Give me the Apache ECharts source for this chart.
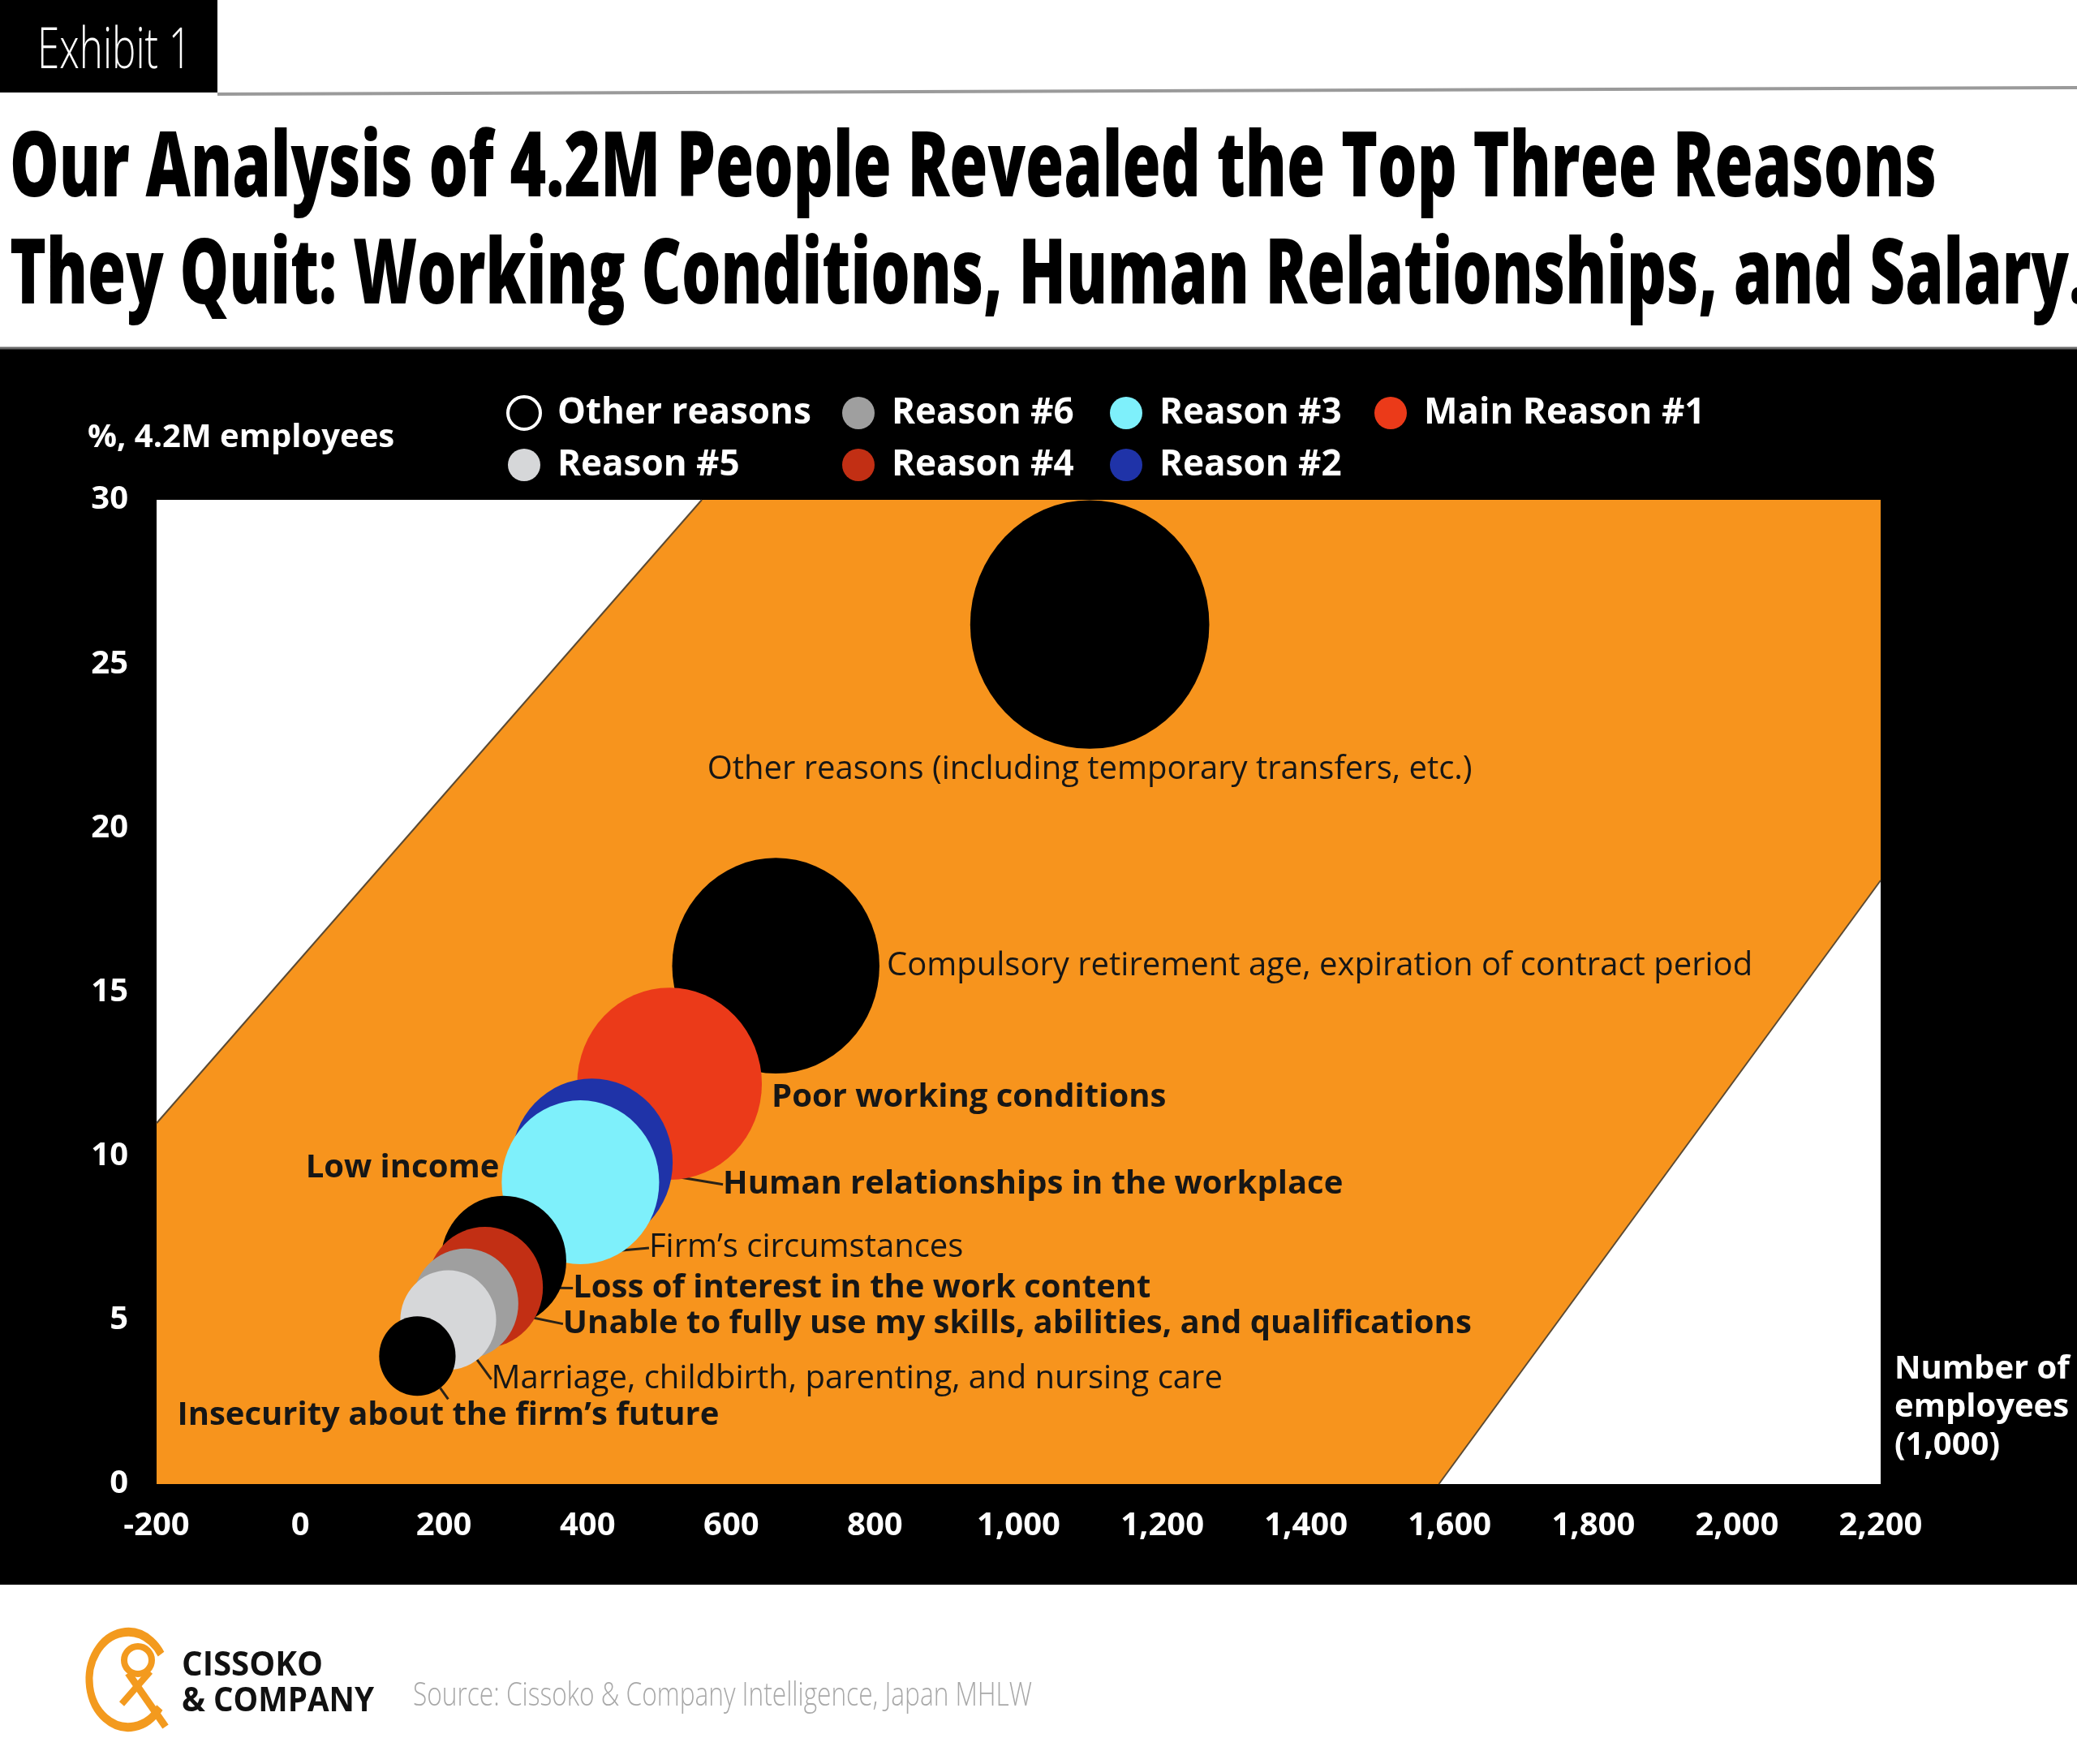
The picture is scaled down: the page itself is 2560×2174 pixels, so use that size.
<!DOCTYPE html>
<html>
<head>
<meta charset="utf-8">
<script src="https://cdn.jsdelivr.net/npm/echarts@6/dist/echarts.min.js"></script>
<style>
html,body{margin:0;padding:0;background:#fff;}
#chart{width:2560px;height:2174px;}
</style>
</head>
<body>
<div id="chart"></div>
<script>
// ---------------- DATA ----------------
const reasons = [
  'Other reasons (including temporary transfers, etc.)',
  'Compulsory retirement age, expiration of contract period',
  'Poor working conditions',
  'Human relationships in the workplace',
  'Low income',
  'Firm\u2019s circumstances',
  'Loss of interest in the work content',
  'Unable to fully use my skills, abilities, and qualifications',
  'Marriage, childbirth, parenting, and nursing care',
  'Insecurity about the firm\u2019s future'
];
// number of employees who quit (1,000)
const employees = [1099, 662, 514, 406, 390, 283, 257, 230, 206, 163];
// share of 4.2M employees (%)
const sharePct = [26.2, 15.8, 12.2, 9.8, 9.2, 6.8, 6.0, 5.5, 5.0, 3.9];
const reasonGroup = ['Other reasons', 'Other reasons', 'Main Reason #1', 'Reason #2', 'Reason #3',
  'Other reasons', 'Reason #4', 'Reason #6', 'Reason #5', 'Other reasons'];
const legendColumns = [['Other reasons', 'Reason #5'], ['Reason #6', 'Reason #4'], ['Reason #3', 'Reason #2'], ['Main Reason #1']];
const xTicks = [-200, 0, 200, 400, 600, 800, 1000, 1200, 1400, 1600, 1800, 2000, 2200];
const yTicks = [0, 5, 10, 15, 20, 25, 30];
// orange background band (data coordinates)
const bandX = [-200, -200, 559, 2200, 2200, 1585];
const bandY = [0, 11, 30, 30, 18.4, 0];
const titleLines = [
  'Our Analysis of 4.2M People Revealed the Top Three Reasons',
  'They Quit: Working Conditions, Human Relationships, and Salary.'
];
const exhibitText = 'Exhibit 1';
const yAxisName = '%, 4.2M employees';
const xAxisName = 'Number of\nemployees\n(1,000)';
const sourceText = 'Source: Cissoko & Company Intelligence, Japan MHLW';
const brandLines = ['CISSOKO', '& COMPANY'];

// ---------------- STYLES ----------------
const FONT = 'Open Sans';
const groupColor = {
  'Other reasons': '#000000',
  'Main Reason #1': '#EB3A19',
  'Reason #2': '#1F33A8',
  'Reason #3': '#7EF0FB',
  'Reason #4': '#C22F14',
  'Reason #5': '#D6D7D9',
  'Reason #6': '#9F9F9F'
};
const labelCfg = [
  { position: 'bottom', distance: 6, dx: 0, dy: 0, bold: false, line: false },
  { position: 'right', distance: 9, dx: 0, dy: 0, bold: false, line: false },
  { position: 'right', distance: 12, dx: 0, dy: 17, bold: true, line: false },
  { position: 'right', distance: 62, dx: 0, dy: 27, bold: true, line: true },
  { position: 'left', distance: 3, dx: 0, dy: -17, bold: true, line: false },
  { position: 'right', distance: 102, dx: 0, dy: -16, bold: false, line: true },
  { position: 'right', distance: 37, dx: 0, dy: 1, bold: true, line: true },
  { position: 'right', distance: 55, dx: 0, dy: 25, bold: true, line: true },
  { position: 'right', distance: -6, dx: 0, dy: 73, bold: false, line: true },
  { position: 'bottom', distance: 4, dx: 38, dy: 0, bold: true, line: true }
];
const legendLeft = [619, 1033, 1363, 1689];

function bubbleDiameter(v) {
  return 312 * (1 - Math.exp(-(v - 30) / 370));
}

// ---------------- helpers ----------------
const mctx = document.createElement('canvas').getContext('2d');
function fitText(text, x, yMid, weight, size, color, targetW, extra) {
  const font = weight + ' ' + size + 'px "' + FONT + '"';
  mctx.font = font;
  const w = mctx.measureText(text).width;
  return Object.assign({
    type: 'text', x: x, y: yMid, scaleX: targetW / w, z: 50,
    style: { text: text, fill: color, font: font, textAlign: 'left', textVerticalAlign: 'middle' }
  }, extra || {});
}

// ---------------- series ----------------
const bandSeries = {
  type: 'custom', name: 'band', silent: true, z: 1,
  data: [0],
  renderItem: function (params, api) {
    const pts = bandX.map((x, i) => api.coord([x, bandY[i]]));
    return {
      type: 'group',
      children: [
        { type: 'polygon', shape: { points: pts }, style: { fill: '#F7941D' } },
        { type: 'line', shape: { x1: pts[1][0], y1: pts[1][1], x2: pts[2][0], y2: pts[2][1] }, style: { stroke: '#5b4a33', lineWidth: 2 } },
        { type: 'line', shape: { x1: pts[4][0], y1: pts[4][1], x2: pts[5][0], y2: pts[5][1] }, style: { stroke: '#5b4a33', lineWidth: 2 } }
      ]
    };
  }
};

const bubbleSeries = employees.map(function (v, i) {
  const c = labelCfg[i];
  return {
    type: 'scatter',
    name: reasonGroup[i],
    z: 2,
    symbol: 'circle',
    symbolSize: function (val) { const d = bubbleDiameter(val[0]); return [d, d * 1.04]; },
    itemStyle: { color: groupColor[reasonGroup[i]], opacity: 1 },
    data: [{ name: reasons[i], value: [v, sharePct[i]] }],
    label: {
      show: true,
      formatter: '{b}',
      position: c.position,
      distance: c.distance,
      color: '#161616',
      fontFamily: FONT,
      fontWeight: c.bold ? 700 : 400,
      fontSize: 40
    },
    labelLayout: { dx: c.dx, dy: c.dy },
    labelLine: { show: c.line, lineStyle: { color: '#2a2218', width: 3 } },
    emphasis: { disabled: true },
    silent: true
  };
});

const legends = legendColumns.map(function (names, ci) {
  return {
    orient: 'vertical',
    left: legendLeft[ci],
    top: 482,
    itemGap: 20,
    itemWidth: 40,
    itemHeight: 42,
    selectedMode: false,
    data: names.map(function (n) {
      if (n === 'Other reasons') {
        return { name: n, icon: 'circle', itemStyle: { color: 'rgba(0,0,0,0)', borderColor: '#ffffff', borderWidth: 4 } };
      }
      return { name: n, icon: 'circle' };
    }),
    textStyle: { color: '#ffffff', fontFamily: FONT, fontWeight: 700, fontSize: 44, padding: [0, 0, 0, 16] }
  };
});

const graphics = [
  { type: 'rect', z: -10, shape: { x: 0, y: 429, width: 2560, height: 1524 }, style: { fill: '#000' } },
  { type: 'line', z: -9, shape: { x1: 0, y1: 429, x2: 2560, y2: 429 }, style: { stroke: '#6a6a6a', lineWidth: 3 } },
  { type: 'rect', z: 10, shape: { x: 0, y: 0, width: 268, height: 114 }, style: { fill: '#000' } },
  { type: 'line', z: 10, shape: { x1: 268, y1: 116, x2: 2560, y2: 108 }, style: { stroke: '#9a9a9a', lineWidth: 4 } },
  fitText(exhibitText, 46, 64, 300, 70, '#ffffff', 190),
  fitText(titleLines[0], 12, 210, 800, 112, '#000000', 2375),
  fitText(titleLines[1], 12, 342, 800, 112, '#000000', 2560),
  // y-axis caption
  { type: 'text', z: 50, x: 108, y: 540,
    style: { text: yAxisName, fill: '#ffffff', font: '700 40px "' + FONT + '"', textAlign: 'left', textVerticalAlign: 'middle' } },
  fitText(brandLines[0], 224, 2053, 700, 42, '#111111', 174),
  fitText(brandLines[1], 224, 2097, 700, 42, '#111111', 237),
  fitText(sourceText, 509, 2091, 300, 40, '#a8a8a8', 763),
  // logo
  { type: 'arc', z: 20, x: 158, y: 2070, scaleY: 1.22,
    shape: { cx: 0, cy: 0, r: 48, startAngle: Math.PI * 0.2, endAngle: Math.PI * 1.82, clockwise: true },
    style: { stroke: '#F39A1E', lineWidth: 9, fill: null } },
  { type: 'circle', z: 20, shape: { cx: 170, cy: 2046, r: 17 }, style: { stroke: '#F39A1E', lineWidth: 8, fill: null } },
  { type: 'line', z: 20, shape: { x1: 158, y1: 2062, x2: 204, y2: 2128 }, style: { stroke: '#F39A1E', lineWidth: 9 } },
  { type: 'line', z: 20, shape: { x1: 185, y1: 2060, x2: 150, y2: 2100 }, style: { stroke: '#F39A1E', lineWidth: 8 } }
];

const option = {
  animation: false,
  backgroundColor: '#ffffff',
  textStyle: { fontFamily: FONT },
  grid: { left: 193, right: 242, top: 616, bottom: 345, show: true, backgroundColor: '#ffffff', borderWidth: 0, containLabel: false },
  legend: legends,
  xAxis: {
    type: 'value',
    min: xTicks[0], max: xTicks[xTicks.length - 1], interval: xTicks[1] - xTicks[0],
    name: xAxisName,
    nameLocation: 'end',
    nameGap: 17,
    nameTextStyle: { color: '#fff', fontFamily: FONT, fontWeight: 700, fontSize: 40, lineHeight: 47, align: 'left', verticalAlign: 'bottom', padding: [0, 0, 24, 0] },
    axisLine: { show: false }, axisTick: { show: false }, splitLine: { show: false },
    axisLabel: { color: '#fff', fontFamily: FONT, fontWeight: 700, fontSize: 40, margin: 32,
      formatter: function (v) { return v.toLocaleString('en-US'); } }
  },
  yAxis: {
    type: 'value',
    min: yTicks[0], max: yTicks[yTicks.length - 1], interval: yTicks[1] - yTicks[0],
    axisLine: { show: false }, axisTick: { show: false }, splitLine: { show: false },
    axisLabel: { color: '#fff', fontFamily: FONT, fontWeight: 700, fontSize: 40, margin: 35 }
  },
  graphic: graphics,
  series: [bandSeries].concat(bubbleSeries)
};

const chart = echarts.init(document.getElementById('chart'), null, { renderer: 'canvas' });
chart.setOption(option);
</script>
</body>
</html>
